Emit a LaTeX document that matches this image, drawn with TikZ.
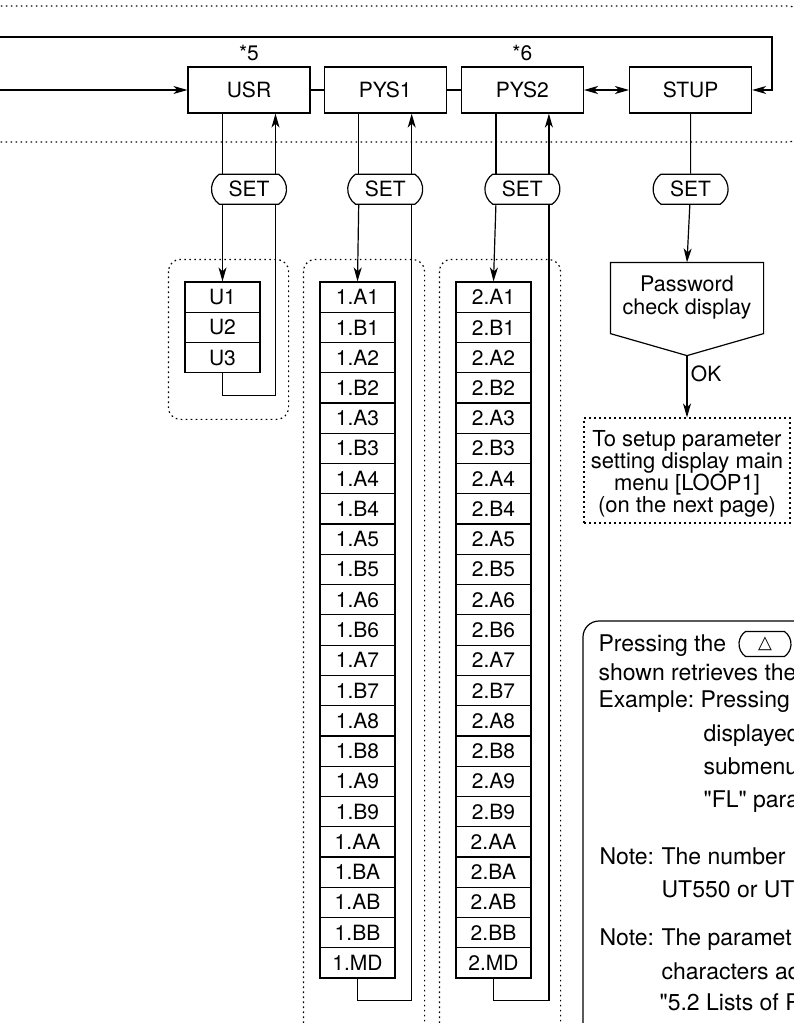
\documentclass[tikz,border=0pt]{standalone}
\usepackage{fontspec}
\setmainfont{TeX Gyre Heros}
\newfontfamily\notefont{TeX Gyre Heros}
\newfontfamily\symfont{DejaVu Sans}
\usetikzlibrary{positioning, arrows.meta, calc, shapes.misc}

\begin{document}
\begin{tikzpicture}[x=1pt, y=-1pt,
    >={Stealth[length=14pt, width=8pt, inset=4pt]}, % schmale gefuellte Pfeilspitzen
    line width=1.2pt,
    font=\fontsize{21}{23}\selectfont,
    menubox/.style={draw, rectangle, minimum height=46pt, minimum width=122pt},
    setkey/.style={draw, rounded rectangle, rounded rectangle arc length=110, minimum height=30pt, minimum width=75pt, inner sep=0pt},
    listrow/.style={draw, rectangle, minimum height=30.26pt, minimum width=75pt, inner sep=0pt},
    dotbox/.style={draw, dash pattern=on 1.6pt off 3.4pt, rounded corners=12pt},
    notetext/.style={anchor=base west, inner sep=0pt, font=\notefont\fontsize{23}{26}\selectfont}
]
\useasboundingbox (0,0) rectangle (794,1023);
\clip (0,0) rectangle (794,1023);

% 1. Hauptmenue-Zeile
\node[menubox] (usr) at (249,90) {USR};
\node[menubox, right=13pt of usr] (pys1) {PYS1};
\node[menubox, right=14pt of pys1] (pys2) {PYS2};
\node[menubox, right=45pt of pys2] (stup) {STUP};
\node[above=3pt of usr, inner sep=2pt] (star5) {*5};
\node[above=3pt of pys2, inner sep=2pt] (star6) {*6};

% 2. Gepunkteter Rahmen um die Zeile
\draw[dotbox, rounded corners=8pt] (-20,6) rectangle (797,142);

% 3. Zulauf und Ruecklauf
\coordinate (in_usr) at (0,90);
\coordinate (in_loop) at (0,37);
\coordinate (loop_corner) at (772,37);
\draw[->] (in_usr) -- (usr.west);
\draw[->] (in_loop) -- (loop_corner) |- (stup.east);
\draw (usr) -- (pys1);
\draw (pys1) -- (pys2);
\draw[<->] (pys2) -- (stup);

% 4. SET-Tasten
\foreach \m in {usr, pys1, pys2, stup}
  \node[setkey, below=60pt of \m] (set_\m) {SET};

\foreach \m in {usr, pys1, pys2} {
  \draw ([xshift=-26.5pt]\m.south) -- ([xshift=-26.5pt]set_\m.north);
  \draw[->] ([xshift=26.5pt]set_\m.north) -- ([xshift=26.5pt]\m.south);
}
\draw (stup) -- (set_stup);

% 5. Parameterlisten
\foreach \t [count=\i] in {U1,U2,U3}
  \node[listrow] (u_\i) at (222.5,{266.87+30.26*\i}) {\t};

\foreach \p/\x in {1/357.5, 2/493.5}
  \foreach \t [count=\i] in {A1,B1,A2,B2,A3,B3,A4,B4,A5,B5,A6,B6,A7,B7,A8,B8,A9,B9,AA,BA,AB,BB,MD}
    \node[listrow] (l\p_\i) at (\x,{266.87+30.26*\i}) {\p.\t};

% 6. Pfeile zur Liste und Rueckfuehrung
\draw[->] ([xshift=-26.5pt]set_usr.south) -- (u_1.north);
\draw (u_3.south) -- ++(0,22) coordinate (u_corner) -| ([xshift=26.5pt]set_usr.south);
\foreach \p in {1,2} {
  \draw[->] ([xshift=-26.5pt]set_pys\p.south) -- (l\p_1.north);
  \draw (l\p_23.south) -- ++(0,22) -| ([xshift=26.5pt]set_pys\p.south);
}

% 7. Gepunktete Listenrahmen
\draw[dotbox] ($(u_1.north west)+(-16,-22)$) rectangle ($(u_3.south east)+(28,46)$);
\foreach \p in {1,2}
  \draw[dotbox] ($(l\p_1.north west)+(-16,-22)$) rectangle ($(l\p_23.south east)+(29,60)$);

% 8. STUP-Zweig mit Passwortabfrage
\node[minimum width=152pt, minimum height=70pt, align=center,
      font=\fontsize{21.5}{23}\selectfont] (pwd) at (687,298) {Password\\check display};
\coordinate (pwd_tip) at ($(pwd.south)+(0,22)$);
\draw (pwd.north west) -- (pwd.north east) -- (pwd.south east) -- (pwd_tip) -- (pwd.south west) -- cycle;
\draw[->] (set_stup) -- (pwd.north);
\node[dotbox, sharp corners, minimum width=206pt, minimum height=105pt] (goal) at (687,470.5) {};
\node[align=center, font=\fontsize{22}{22}\selectfont] (goal_text) at ([yshift=-3pt]goal.center)
      {To setup parameter\\setting display main\\menu [LOOP1]\\(on the next page)};
\draw[->] (pwd_tip) -- (goal.north) node[right, pos=0.3] (ok_lbl) {OK};

% 9. Hinweisbox (rechts unten, angeschnitten)
\draw[rounded corners=16pt] (583,1060) |- (820,621);
\node[notetext] (note_1) at (598,651) {Pressing the};
\node[setkey, minimum width=52pt, minimum height=25pt, font=\symfont\fontsize{18}{18}\selectfont] (key_up) at (765,644) {△};
\foreach \nx/\ny/\nt [count=\k from 2] in {598/680/{shown retrieves the}, 598/707/{Example:}, 700/707/{Pressing},
    703/741/{displayed}, 703/774/{submenu}, 703/807/{"FL" para}, 599/864/{Note:}, 661/864/{The number},
    661/897/{UT550 or UT}, 599/945/{Note:}, 661/945/{The paramet}, 661/979/{characters ad}, 659/1010/{"5.2 Lists of P}}
  \node[notetext] (note_\k) at (\nx,\ny) {\nt};

\end{tikzpicture}
\end{document}
